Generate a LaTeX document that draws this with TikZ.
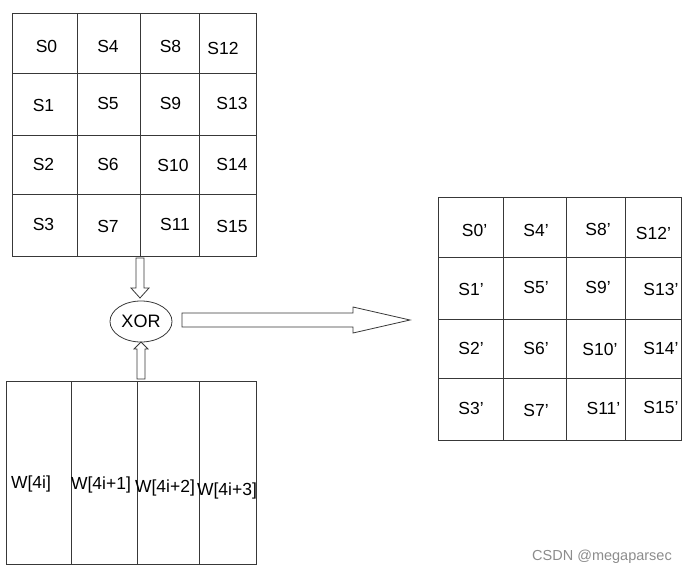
\documentclass[tikz,border=0pt]{standalone}
\usepackage{fontspec}
\setmainfont{Liberation Sans}
\usetikzlibrary{shapes.geometric}
\begin{document}
\begin{tikzpicture}[x=1pt,y=-1pt,
  gridline/.style={draw=black!78,line width=0.8pt},
  gridbox/.style={gridline,rectangle,inner sep=0pt},
  lbl/.style={inner sep=0pt,text depth=0pt,font=\fontsize{17.5}{20}\selectfont},
  blockarrow/.style={draw=black!78,line width=0.8pt,fill=white,line join=miter},
  wm/.style={inner sep=0pt,text=black!45,font=\fontsize{14.5}{17}\selectfont}]
\useasboundingbox (0,0) rectangle (691,576);
% top grid
\node[gridbox,minimum width=244pt,minimum height=243pt] (G1) at (134,134.5) {};
\foreach \x in {77.5,140,199} \draw[gridline] (\x,13) -- (\x,256);
\foreach \y in {73,135,194} \draw[gridline] (12,\y) -- (256,\y);
\node[lbl] (s0) at (46.5,46) {S0};
\node[lbl] (s4) at (108,46.5) {S4};
\node[lbl] (s8) at (170.5,46) {S8};
\node[lbl] (s12) at (223,48) {S12};
\node[lbl] (s1) at (43.5,105) {S1};
\node[lbl] (s5) at (108,103.5) {S5};
\node[lbl] (s9) at (170.5,103.5) {S9};
\node[lbl] (s13) at (232,103.5) {S13};
\node[lbl] (s2) at (43.5,164) {S2};
\node[lbl] (s6) at (108,164) {S6};
\node[lbl] (s10) at (173,165) {S10};
\node[lbl] (s14) at (232,164) {S14};
\node[lbl] (s3) at (43.5,224.5) {S3};
\node[lbl] (s7) at (108,226.5) {S7};
\node[lbl] (s11) at (175,224) {S11};
\node[lbl] (s15) at (232,226) {S15};
% W grid
\node[gridbox,minimum width=250pt,minimum height=183pt] (W) at (131,472.5) {};
\foreach \x in {71,137,199} \draw[gridline] (\x,381) -- (\x,564);
\node[lbl] (w0) at (31,482.5) {W[4i]};
\node[lbl] (w1) at (101,483) {W[4i+1]};
\node[lbl] (w2) at (165,486.5) {W[4i+2]};
\node[lbl] (w3) at (227,489) {W[4i+3]};
% XOR
\node[ellipse,draw=black!78,line width=0.8pt,minimum width=62pt,minimum height=41pt,inner sep=0pt,font=\fontsize{18}{20}\selectfont] (xor) at (141,321.5) {XOR};
% right grid
\node[gridbox,minimum width=243pt,minimum height=243pt] (G2) at (559.5,318.5) {};
\foreach \x in {503,566,625} \draw[gridline] (\x,197) -- (\x,440);
\foreach \y in {257,319,378} \draw[gridline] (438,\y) -- (681,\y);
\node[lbl] (t0) at (474.5,230) {S0’};
\node[lbl] (t4) at (536,230.5) {S4’};
\node[lbl] (t8) at (598,229) {S8’};
\node[lbl] (t12) at (653.5,233.5) {S12’};
\node[lbl] (t1) at (471,289) {S1’};
\node[lbl] (t5) at (536,287) {S5’};
\node[lbl] (t9) at (598,287) {S9’};
\node[lbl] (t13) at (661,289) {S13’};
\node[lbl] (t2) at (471,348.5) {S2’};
\node[lbl] (t6) at (536,348) {S6’};
\node[lbl] (t10) at (600,349.5) {S10’};
\node[lbl] (t14) at (661,348) {S14’};
\node[lbl] (t3) at (471,408.5) {S3’};
\node[lbl] (t7) at (536,410) {S7’};
\node[lbl] (t11) at (603.5,408.5) {S11’};
\node[lbl] (t15) at (661,407) {S15’};
% block arrows
\draw[blockarrow] (136,258) -- (136,288) -- (131,288) -- (140,298) -- (149,288) -- (144,288) -- (144,258) -- cycle;
\draw[blockarrow] (137,379) -- (137,349) -- (134,349) -- (141,342) -- (148,349) -- (145,349) -- (145,379) -- cycle;
\draw[blockarrow] (182,313) -- (353,313) -- (353,307) -- (410,320) -- (353,333) -- (353,327) -- (182,327) -- cycle;
% watermark
\node[wm] (wmark) at (602,557) {CSDN @megaparsec};
\end{tikzpicture}
\end{document}
